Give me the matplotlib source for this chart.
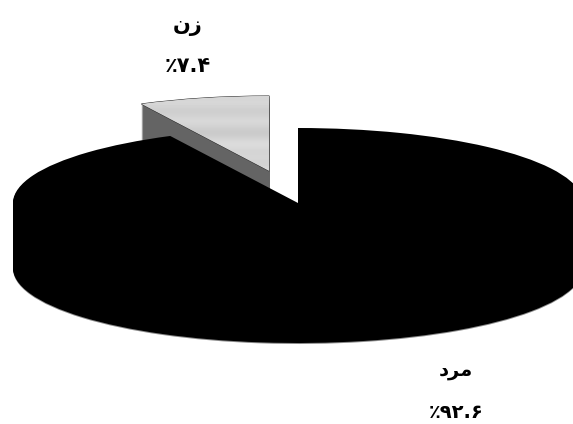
import numpy as np
import matplotlib
matplotlib.use("Agg")
import matplotlib.pyplot as plt

# --- data ---
shares = [92.6, 7.4]
# Visual-order presentation forms: matplotlib does no Arabic shaping or bidi
name_labels = ["\u062F\uFEAE\uFEE3", "\u0646\u0632"]      # مرد , زن
value_labels = ["\u066A\u06F9\u06F2.\u06F6", "\u066A\u06F7.\u06F4"]  # ٪۹۲.۶ , ٪۷.۴
top_colors = ["#000000", "#d6d6d6"]
side_colors = ["#000000", "#646464"]
texture_greys = [0.86, 0.83, 0.85, 0.80, 0.82, 0.86, 0.81, 0.78, 0.84, 0.87,
                 0.82, 0.85, 0.81, 0.86, 0.83, 0.80, 0.85]

W, H = 573, 424
RX, RY = 285.0, 75.0
SQ = RX / RY
CX, CY = 298.0, 203.0
DEPTH = 65
EXPLODE = [0.0, 125.0]  # pie() offsets wedges in data units


def yd(ypx):
    return (H - ypx) * SQ


fig = plt.figure(figsize=(W / 100, H / 100), dpi=100, facecolor="white")
ax = fig.add_axes([0, 0, 1, 1])


def draw(offset, colors, z):
    wedges, _ = ax.pie(shares, explode=EXPLODE, colors=colors, radius=RX,
                       center=(CX, yd(CY + offset)), startangle=90,
                       counterclock=False, frame=False)
    for w, zz in zip(wedges, z):
        w.set_zorder(zz)
        w.set_linewidth(0)
    return wedges


# soft grey fringe under the main slice
draw(DEPTH + 1, ["#8a8a8a", "none"], (1, 1))
# extruded sides
for d in range(DEPTH, 0, -1):
    draw(d, side_colors, (4, 2))
# top faces
wedges = draw(0, top_colors, (5, 3))
top = wedges[1]
top.set_edgecolor("#222222")
top.set_linewidth(0.7)

# streaky texture on the small slice
tex = np.array(texture_greys).reshape(-1, 1)
im = ax.imshow(tex, cmap="gray", vmin=0, vmax=1, aspect="auto", zorder=3.5,
               extent=(130, 280, yd(190), yd(90)), interpolation="bicubic")
im.set_clip_path(top)

ax.set_xlim(0, W)
ax.set_ylim(0, H * SQ)
ax.set_aspect("auto")
ax.axis("off")

font = dict(family="DejaVu Sans", fontweight="bold", color="black",
            ha="center", va="center", zorder=10)
ax.text(456, yd(371), name_labels[0], fontsize=14, **font)
ax.text(456, yd(412), value_labels[0], fontsize=14, **font)
ax.text(188, yd(26), name_labels[1], fontsize=15, **font)
ax.text(188, yd(66), value_labels[1], fontsize=15, **font)

fig.savefig("out.png", dpi=100, facecolor="white")
